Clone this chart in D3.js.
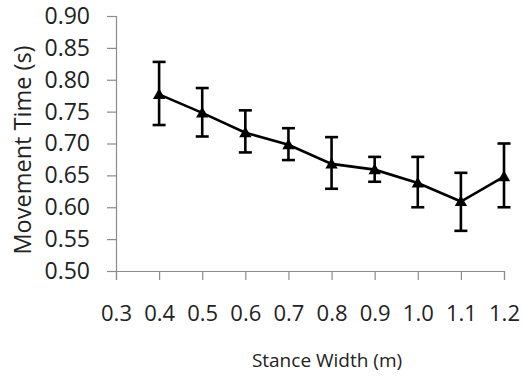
<!DOCTYPE html>
<html>
<head>
<meta charset="utf-8">
<script src="https://cdn.jsdelivr.net/npm/d3@7"></script>
<style>
  body { margin: 0; background: #fff; }
  svg text { font-family: "Open Sans", sans-serif; fill: #222; }
</style>
</head>
<body>
<div class="container-chart"></div>
<script>
// stance width (m) and mean movement time (s), with error bar ends
const widths = [0.4, 0.5, 0.6, 0.7, 0.8, 0.9, 1.0, 1.1, 1.2];
const meanTime = [0.777, 0.748, 0.717, 0.698, 0.668, 0.659, 0.638, 0.609, 0.648];
const errHigh = [0.828, 0.787, 0.752, 0.724, 0.710, 0.679, 0.679, 0.654, 0.700];
const errLow = [0.729, 0.711, 0.686, 0.674, 0.629, 0.640, 0.600, 0.563, 0.600];
const xTicks = [0.3, 0.4, 0.5, 0.6, 0.7, 0.8, 0.9, 1.0, 1.1, 1.2];
const yTicks = [0.50, 0.55, 0.60, 0.65, 0.70, 0.75, 0.80, 0.85, 0.90];

const W = 522, H = 376;
const margin = { top: 16, right: 18, bottom: 105, left: 116 };

const svg = d3.select(".container-chart")
    .append("svg")
    .attr("width", W)
    .attr("height", H);

const x = d3.scaleLinear().domain([0.3, 1.2]).range([margin.left, W - margin.right]);
const y = d3.scaleLinear().domain([0.5, 0.9]).range([H - margin.bottom, margin.top]);

const axisColor = "#8c8c8c";

// y axis
const gy = svg.append("g")
    .attr("transform", `translate(${margin.left},0)`)
    .call(d3.axisLeft(y).tickValues(yTicks).tickFormat(d3.format(".2f")).tickSize(9).tickPadding(17));
gy.select(".domain").attr("stroke", axisColor).attr("stroke-width", 1.2);
gy.selectAll(".tick line").attr("stroke", axisColor).attr("stroke-width", 1.2);
gy.selectAll("text").style("font-size", "23px").attr("fill", "#222");

// x axis
const gx = svg.append("g")
    .attr("transform", `translate(0,${H - margin.bottom})`)
    .call(d3.axisBottom(x).tickValues(xTicks).tickFormat(d3.format(".1f")).tickSize(9).tickPadding(25));
gx.select(".domain").attr("stroke", axisColor).attr("stroke-width", 1.2);
gx.selectAll(".tick line").attr("stroke", axisColor).attr("stroke-width", 1.2);
gx.selectAll("text").style("font-size", "22px").attr("fill", "#222");

// axis titles
svg.append("text")
    .attr("x", 327)
    .attr("y", 367)
    .attr("text-anchor", "middle")
    .style("font-size", "19px")
    .text("Stance Width (m)");

svg.append("text")
    .attr("transform", `translate(31,${150}) rotate(-90)`)
    .attr("text-anchor", "middle")
    .style("font-size", "23.5px")
    .text("Movement Time (s)");

const pts = widths.map((w, i) => ({ w: w, m: meanTime[i], hi: errHigh[i], lo: errLow[i] }));

// error bars
const eb = svg.append("g").attr("stroke", "#000").attr("stroke-width", 2.6);
eb.selectAll(".stem").data(pts).enter().append("line")
    .attr("x1", d => x(d.w)).attr("x2", d => x(d.w))
    .attr("y1", d => y(d.hi)).attr("y2", d => y(d.lo));
eb.selectAll(".capHi").data(pts).enter().append("line")
    .attr("x1", d => x(d.w) - 6.5).attr("x2", d => x(d.w) + 6.5)
    .attr("y1", d => y(d.hi)).attr("y2", d => y(d.hi));
eb.selectAll(".capLo").data(pts).enter().append("line")
    .attr("x1", d => x(d.w) - 6.5).attr("x2", d => x(d.w) + 6.5)
    .attr("y1", d => y(d.lo)).attr("y2", d => y(d.lo));

// line
const line = d3.line().x(d => x(d.w)).y(d => y(d.m));
svg.append("path")
    .datum(pts)
    .attr("d", line)
    .attr("fill", "none")
    .attr("stroke", "#000")
    .attr("stroke-width", 2.6);

// triangle markers
const tri = d3.symbol().type(d3.symbolTriangle).size(66);
svg.selectAll(".marker").data(pts).enter().append("path")
    .attr("d", tri)
    .attr("transform", d => `translate(${x(d.w)},${y(d.m) + 1})`)
    .attr("fill", "#000");
</script>
</body>
</html>
